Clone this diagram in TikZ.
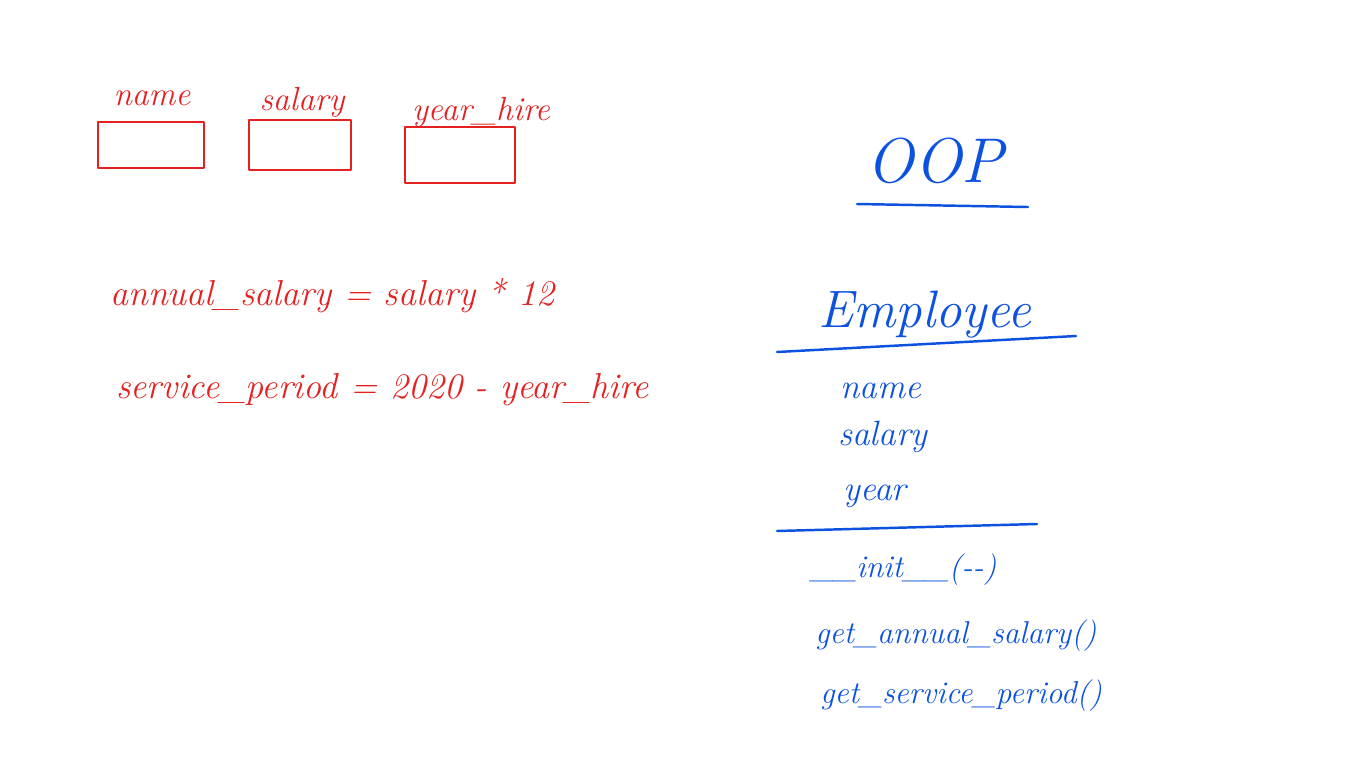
\documentclass[tikz,border=0pt]{standalone}
\definecolor{inkred}{RGB}{228,32,32}
\definecolor{inkblue}{RGB}{12,82,222}
\begin{document}
\begin{tikzpicture}[x=0.02cm, y=-0.02cm, line cap=round, line join=round,
  redbox/.style={draw=inkred, line width=1.4pt, inner sep=0pt},
  redtxt/.style={text=inkred, font=\fontsize{19}{22}\selectfont\itshape, inner sep=0pt},
  eqtxt/.style={text=inkred, font=\fontsize{20.5}{24}\selectfont\itshape, inner sep=0pt, anchor=base west},
  bluetxt/.style={text=inkblue, font=\fontsize{20}{24}\selectfont\itshape, inner sep=0pt, anchor=base west},
  methtxt/.style={bluetxt, font=\fontsize{18}{22}\selectfont\itshape},
  rule/.style={draw=inkblue, line width=1.4pt}
]
  \fill[white] (0,0) rectangle (1366,768);
  \useasboundingbox (0,0) rectangle (1366,768);

  % fields
  \node[redtxt, anchor=base] (lname) at (152,105) {name};
  \node[redtxt, anchor=base] (lsalary) at (302,110) {salary};
  \node[redtxt, anchor=base] (lyear) at (481,120) {year\_hire};

  \node[redbox, minimum width=106*0.02cm, minimum height=46*0.02cm] (bname) at (151,145) {};
  \node[redbox, minimum width=102*0.02cm, minimum height=50*0.02cm] (bsalary) at (300,145) {};
  \node[redbox, minimum width=110*0.02cm, minimum height=56*0.02cm] (byear) at (460,155) {};

  % formulas
  \node[eqtxt] (annual) at (110,305) {annual\_salary = salary * 12};
  \node[eqtxt] (service) at (116,398) {service\_period = 2020 - year\_hire};

  % class
  \node[text=inkblue, font=\fontsize{36}{40}\selectfont\itshape, inner sep=0pt, anchor=base] (oop) at (935,182) {OOP};
  \coordinate (oop w) at (857,204);
  \coordinate (oop e) at (1028,207);
  \draw[rule] (oop w) -- (oop e);

  \node[text=inkblue, font=\fontsize{30}{34}\selectfont\itshape, inner sep=0pt, anchor=base] (employee) at (925,327) {Employee};
  \coordinate (top w) at (777,352);
  \coordinate (top e) at (1076,336);
  \draw[rule] (top w) -- (top e);

  \node[bluetxt] (aname) at (840,398) {name};
  \node[bluetxt] (asalary) at (838,445) {salary};
  \node[bluetxt] (ayear) at (843,500) {year};

  \coordinate (mid w) at (777,531);
  \coordinate (mid e) at (1037,524);
  \draw[rule] (mid w) -- (mid e);

  \node[methtxt] (init) at (810,577) {\_\_init\_\_({-}{-})};
  \node[methtxt] (getannual) at (815,643) {get\_annual\_salary()};
  \node[methtxt] (getservice) at (820,703) {get\_service\_period()};
\end{tikzpicture}
\end{document}
